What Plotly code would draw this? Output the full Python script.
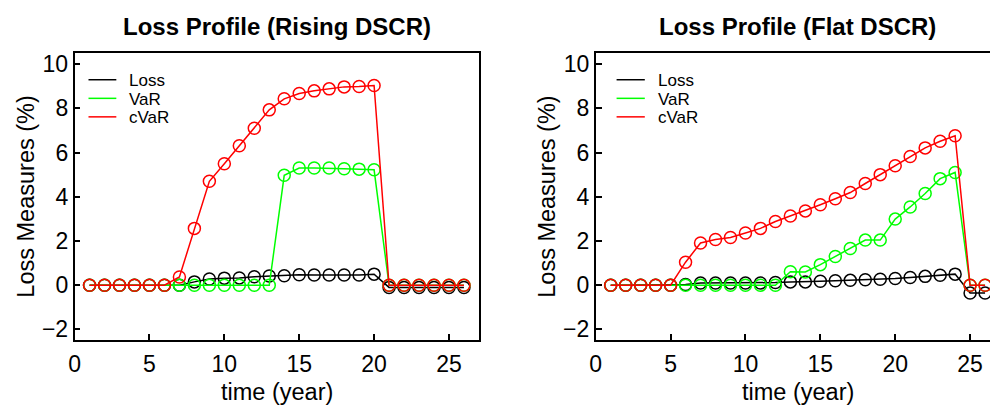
import plotly.graph_objects as go

# ---- data ----
time = list(range(1, 27))

rising_loss = [0, 0, 0, 0, 0, 0, 0.0, 0.15, 0.28, 0.32, 0.33, 0.38, 0.42, 0.43,
               0.47, 0.46, 0.46, 0.46, 0.46, 0.5, -0.1, -0.1, -0.1, -0.1, -0.1, -0.1]
rising_var = [0, 0, 0, 0, 0, 0, 0, 0, 0, 0, 0, 0, 0,
              4.97, 5.3, 5.3, 5.3, 5.27, 5.25, 5.22, 0, 0, 0, 0, 0, 0]
rising_cvar = [0, 0, 0, 0, 0, 0, 0.37, 2.57, 4.7, 5.49, 6.31, 7.1, 7.93, 8.43,
               8.67, 8.79, 8.88, 8.97, 8.99, 9.03, 0, 0, 0, 0, 0, 0]

flat_loss = [0, 0, 0, 0, 0, 0.03, 0.1, 0.1, 0.1, 0.1, 0.1, 0.12, 0.15, 0.15,
             0.18, 0.2, 0.22, 0.25, 0.27, 0.3, 0.35, 0.4, 0.45, 0.5, -0.35, -0.35]
flat_var = [0, 0, 0, 0, 0, 0, 0, 0, 0, 0, 0, 0, 0.61, 0.6, 0.93, 1.3, 1.66,
            2.04, 2.04, 2.99, 3.54, 4.15, 4.82, 5.1, 0, 0]
flat_cvar = [0, 0, 0, 0, 0, 1.04, 1.91, 2.07, 2.16, 2.36, 2.57, 2.88, 3.13,
             3.36, 3.64, 3.91, 4.19, 4.6, 5.0, 5.4, 5.82, 6.21, 6.51, 6.76, 0, 0]

series_names = ["Loss", "VaR", "cVaR"]
series_colors = ["#000000", "#00FF00", "#FF0000"]
panel_titles = ["Loss Profile (Rising DSCR)", "Loss Profile (Flat DSCR)"]
x_title = "time (year)"
y_title = "Loss Measures (%)"
x_ticks = [0, 5, 10, 15, 20, 25]
y_ticks = [-2, 0, 2, 4, 6, 8, 10]

# ---- layout geometry (pixels) ----
W, H = 990, 406
FONT = "Liberation Sans, Arial, Helvetica, sans-serif"


def px(x):
    return x / W


def py(y):
    return 1 - y / H


plot_top, plot_bot = 52, 341.4
left_x0, left_x1 = 69, 475.8
right_x0 = 593.3

fig = go.Figure()

panels = [
    (["x", "y"], [rising_loss, rising_var, rising_cvar]),
    (["x2", "y2"], [flat_loss, flat_var, flat_cvar]),
]
for (xa, ya), series in panels:
    for name, vals, col in zip(series_names, series, series_colors):
        fig.add_trace(go.Scatter(
            x=time, y=vals, name=name, xaxis=xa, yaxis=ya,
            mode="lines+markers", showlegend=False, cliponaxis=False,
            line=dict(color=col, width=1.5),
            marker=dict(symbol="circle-open", size=12, color=col,
                        line=dict(color=col, width=1.5)),
        ))

axis_common = dict(
    showgrid=False, zeroline=False, showline=True, linecolor="black",
    linewidth=1.6, ticks="inside", ticklen=6, tickwidth=1.5, tickcolor="black",
    tickfont=dict(family=FONT, size=23, color="black"),
)

fig.update_layout(
    width=W, height=H, margin=dict(l=0, r=0, t=0, b=0),
    paper_bgcolor="white", plot_bgcolor="white",
    font=dict(family=FONT, color="black"),
    xaxis=dict(domain=[px(left_x0), px(left_x1)], range=[0, 27],
               tickvals=x_ticks, mirror=True, anchor="y", ticklabelstandoff=3,
               **axis_common),
    yaxis=dict(domain=[py(plot_bot), py(plot_top)], range=[-2.48, 10.48],
               tickvals=y_ticks, mirror=True, anchor="x", **axis_common),
    xaxis2=dict(domain=[px(right_x0), 1.0], range=[0, (W - right_x0) / ((left_x1 - left_x0) / 27)],
                tickvals=x_ticks, mirror=True, anchor="y2", ticklabelstandoff=3,
                **axis_common),
    yaxis2=dict(domain=[py(plot_bot), py(plot_top)], range=[-2.48, 10.48],
                tickvals=y_ticks, mirror=False, anchor="x2", **axis_common),
)

annotations = []
shapes = []
panel_x0 = [left_x0, right_x0]
panel_cx = [(left_x0 + left_x1) / 2, right_x0 + (left_x1 - left_x0) / 2]
legend_line_x = [(83, 111), (614.3, 642.7)]
legend_text_x = [122, 654]
legend_rows = [78.5, 97.3, 116]

for i in range(2):
    annotations.append(dict(
        text="<b>" + panel_titles[i] + "</b>", xref="paper", yref="paper",
        x=px(panel_cx[i]), y=py(25), xanchor="center", yanchor="middle",
        showarrow=False, font=dict(family=FONT, size=24, color="black")))
    annotations.append(dict(
        text=x_title, xref="paper", yref="paper",
        x=px(panel_cx[i]), y=py(394), xanchor="center", yanchor="middle",
        showarrow=False, font=dict(family=FONT, size=23.5, color="black")))
    annotations.append(dict(
        text=y_title, xref="paper", yref="paper", textangle=-90,
        x=px(panel_x0[i] - 49), y=py((plot_top + plot_bot) / 2),
        xanchor="center", yanchor="middle",
        showarrow=False, font=dict(family=FONT, size=23.5, color="black")))
    for name, col, ry in zip(series_names, series_colors, legend_rows):
        shapes.append(dict(type="line", xref="paper", yref="paper",
                           x0=px(legend_line_x[i][0]), x1=px(legend_line_x[i][1]),
                           y0=py(ry), y1=py(ry), line=dict(color=col, width=1.5)))
        annotations.append(dict(
            text=name, xref="paper", yref="paper",
            x=px(legend_text_x[i]), y=py(ry + 1), xanchor="left", yanchor="middle",
            showarrow=False, font=dict(family=FONT, size=17, color="black")))

fig.update_layout(annotations=annotations, shapes=shapes)
fig.write_html("out.html")
